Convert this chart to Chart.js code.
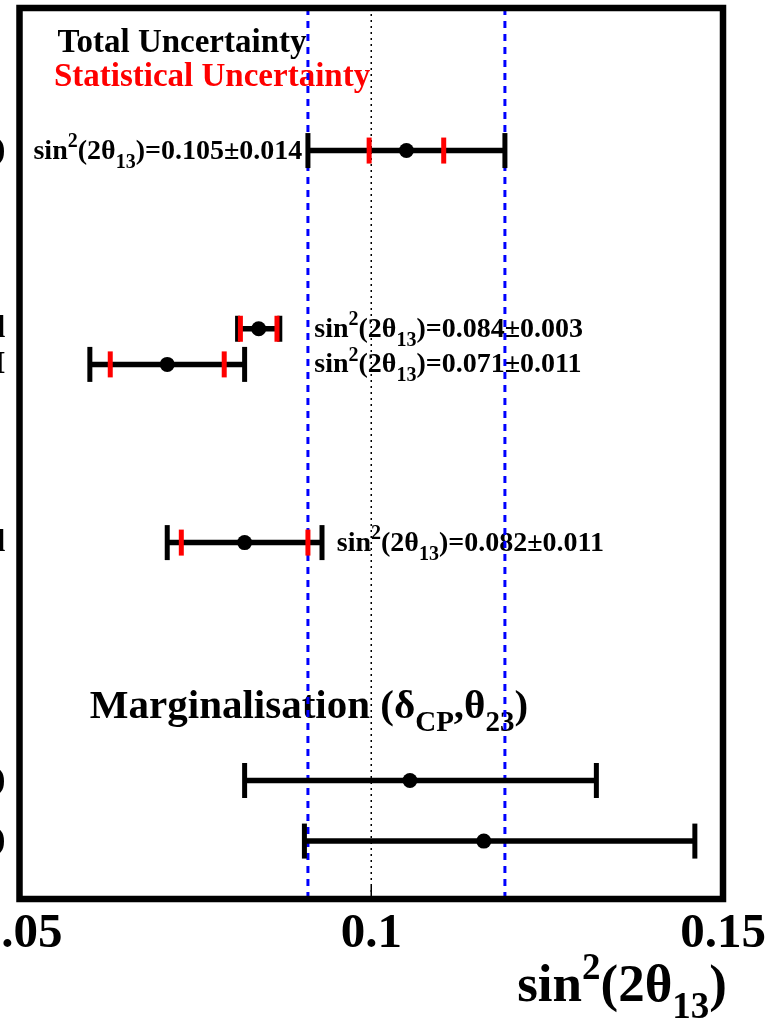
<!DOCTYPE html>
<html>
<head>
<meta charset="utf-8">
<script src="https://cdn.jsdelivr.net/npm/chart.js@4.4.1/dist/chart.umd.min.js"></script>
<style>
  html, body { margin: 0; padding: 0; background: #fff; overflow: hidden; }
  /* canvas is wider than the page: the left end of the y labels runs off screen */
  #wrap { position: absolute; left: -200px; top: 0; width: 976px; height: 1019px; }
</style>
</head>
<body>
<div id="wrap"><canvas id="chart"></canvas></div>
<script>
// Measurements, top to bottom
const rowLabels = [")", "l", "I", "l", ")", ")"];
const rowY = [8.4, 6.4, 6.0, 4.0, 1.33, 0.65];
const centralValues = [0.105, 0.084, 0.071, 0.082, 0.1055, 0.116];
const totalErrLow = [0.014, 0.003, 0.011, 0.011, 0.0235, 0.0255];
const totalErrHigh = [0.014, 0.003, 0.011, 0.011, 0.0265, 0.030];
const statErr = [0.0053, 0.0026, 0.0081, 0.009, null, null];

// Band from the first measurement, and the reference value
const bandLimits = [0.091, 0.119];
const referenceValue = 0.1;
const xTicks = [0.05, 0.1, 0.15];

const FONT = '"Liberation Serif", "Times New Roman", serif';

// where the value labels go (data coordinates)
const notes = [
  { row: 0, x: 0.0902, align: "right" },
  { row: 1, x: 0.0919, align: "left" },
  { row: 2, x: 0.0919, align: "left" },
  { row: 3, x: 0.0951, align: "left" }
];

// bold text with ^superscript / _subscript pieces
function drawScript(ctx, x, y, parts, size, align, color) {
  const fontFor = k => `bold ${k ? Math.round(size * 0.7) : size}px ${FONT}`;
  let width = 0;
  parts.forEach(([t, k]) => { ctx.font = fontFor(k); width += ctx.measureText(t).width; });
  let cx = align === "right" ? x - width : x;
  ctx.fillStyle = color || "#000";
  ctx.textAlign = "left";
  ctx.textBaseline = "alphabetic";
  parts.forEach(([t, k]) => {
    ctx.font = fontFor(k);
    const dy = k === "^" ? -size * 0.42 : k === "_" ? size * 0.32 : 0;
    ctx.fillText(t, cx, y + dy);
    cx += ctx.measureText(t).width;
  });
}

const errorBars = {
  id: "errorBars",
  beforeDatasetsDraw(chart) {
    const { ctx, chartArea: area, scales: { x, y } } = chart;
    ctx.save();

    // header and value labels
    drawScript(ctx, x.getPixelForValue(0.0554), y.getPixelForValue(9.506),
      [["Total Uncertainty", ""]], 33, "left", "#000");
    drawScript(ctx, x.getPixelForValue(0.0549), y.getPixelForValue(9.125),
      [["Statistical Uncertainty", ""]], 33, "left", "#ff0000");
    drawScript(ctx, x.getPixelForValue(0.0600), y.getPixelForValue(2.035),
      [["Marginalisation (δ", ""], ["CP", "_"], [",θ", ""], ["23", "_"], [")", ""]], 41, "left");

    notes.forEach(n => {
      const i = n.row;
      const txt = ")=" + centralValues[i].toFixed(3) + "±" + totalErrLow[i].toFixed(3);
      drawScript(ctx, x.getPixelForValue(n.x), y.getPixelForValue(rowY[i]) + 8,
        [["sin", ""], ["2", "^"], ["(2θ", ""], ["13", "_"], [txt, ""]], 28, n.align);
    });

    // dotted reference line
    ctx.strokeStyle = "#000";
    ctx.lineWidth = 1.5;
    ctx.setLineDash([2, 4]);
    const xr = x.getPixelForValue(referenceValue);
    ctx.beginPath();
    ctx.moveTo(xr, area.top);
    ctx.lineTo(xr, area.bottom);
    ctx.stroke();

    // blue dashed band edges
    ctx.strokeStyle = "#0000ff";
    ctx.lineWidth = 3;
    ctx.setLineDash([7, 6]);
    bandLimits.forEach(v => {
      const px = x.getPixelForValue(v);
      ctx.beginPath();
      ctx.moveTo(px, area.top);
      ctx.lineTo(px, area.bottom);
      ctx.stroke();
    });
    ctx.setLineDash([]);

    // tick marks on the bottom axis
    ctx.strokeStyle = "#000";
    ctx.lineWidth = 1.5;
    xTicks.forEach(v => {
      const px = x.getPixelForValue(v);
      ctx.beginPath();
      ctx.moveTo(px, area.bottom);
      ctx.lineTo(px, area.bottom - 13);
      ctx.stroke();
    });

    // error bars: total in black with caps, statistical as red ticks
    centralValues.forEach((c, i) => {
      const py = y.getPixelForValue(rowY[i]);
      const lo = x.getPixelForValue(c - totalErrLow[i]);
      const hi = x.getPixelForValue(c + totalErrHigh[i]);
      const capH = i === 1 ? 26 : 35;
      ctx.strokeStyle = "#000";
      ctx.lineWidth = 5.5;
      ctx.beginPath();
      ctx.moveTo(lo, py);
      ctx.lineTo(hi, py);
      ctx.stroke();
      ctx.lineWidth = 5;
      [lo, hi].forEach(px => {
        ctx.beginPath();
        ctx.moveTo(px, py - capH / 2);
        ctx.lineTo(px, py + capH / 2);
        ctx.stroke();
      });
      if (statErr[i] != null) {
        ctx.strokeStyle = "#ff0000";
        ctx.lineWidth = 5;
        [c - statErr[i], c + statErr[i]].forEach(v => {
          const px = x.getPixelForValue(v);
          ctx.beginPath();
          ctx.moveTo(px, py - 13);
          ctx.lineTo(px, py + 13);
          ctx.stroke();
        });
      }
    });
    ctx.restore();
  },
  afterDraw(chart) {
    const { ctx, chartArea: area } = chart;
    ctx.save();
    // frame
    ctx.strokeStyle = "#000";
    ctx.lineWidth = 6.5;
    ctx.strokeRect(area.left, area.top, area.right - area.left, area.bottom - area.top);
    // x axis title
    drawScript(ctx, area.right + 4, 1001,
      [["sin", ""], ["2", "^"], ["(2θ", ""], ["13", "_"], [")", ""]], 53, "right");
    ctx.restore();
  }
};

new Chart(document.getElementById("chart"), {
  type: "scatter",
  data: {
    datasets: [{
      data: rowY.map((v, i) => ({ x: centralValues[i], y: v })),
      backgroundColor: "#000",
      borderWidth: 0,
      pointRadius: 7.5,
      pointHoverRadius: 7.5
    }]
  },
  options: {
    responsive: true,
    maintainAspectRatio: false,
    devicePixelRatio: 1,
    animation: false,
    events: [],
    layout: { padding: { top: 8, right: 53, left: 0, bottom: 0 } },
    plugins: { legend: { display: false }, tooltip: { enabled: false } },
    scales: {
      x: {
        type: "linear",
        min: 0.05,
        max: 0.15,
        afterBuildTicks: s => { s.ticks = xTicks.map(v => ({ value: v })); },
        afterFit: s => { s.height = 120; s.paddingLeft = 0; s.paddingRight = 0; },
        grid: { display: false, drawTicks: false },
        border: { display: false },
        ticks: {
          padding: 6,
          autoSkip: false,
          maxRotation: 0,
          minRotation: 0,
          color: "#000",
          font: { family: FONT, size: 49, weight: "bold" },
          callback: v => String(+v.toFixed(2))
        }
      },
      y: {
        type: "linear",
        min: 0,
        max: 10,
        afterBuildTicks: s => { s.ticks = rowY.map(v => ({ value: v })); },
        afterFit: s => { s.width = 219.5; s.paddingTop = 0; s.paddingBottom = 0; },
        grid: { display: false, drawTicks: false },
        border: { display: false },
        ticks: {
          padding: 14,
          autoSkip: false,
          color: "#000",
          font: { family: FONT, size: 32, weight: "bold" },
          callback: (v, i) => rowLabels[i]
        }
      }
    }
  },
  plugins: [errorBars]
});
</script>
</body>
</html>
